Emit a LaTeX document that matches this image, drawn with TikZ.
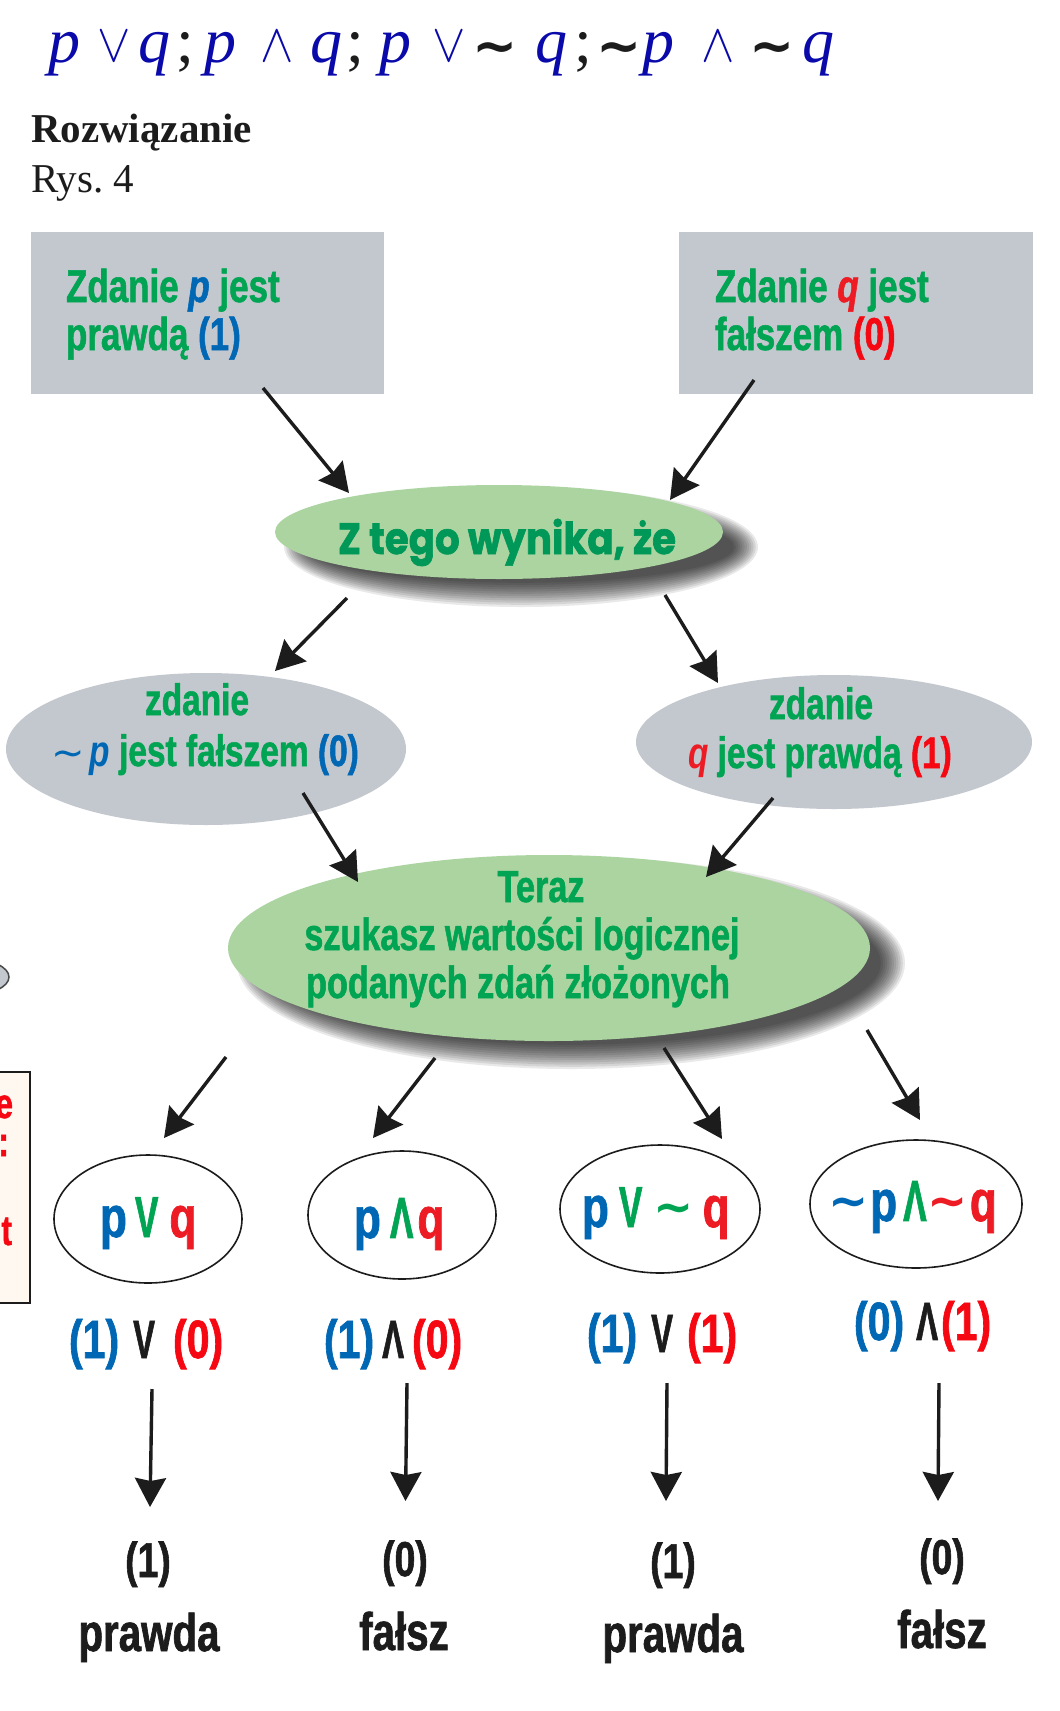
\documentclass[tikz,border=0pt]{standalone}
\usepackage{graphicx}
\usepackage{fontspec}
\setmainfont{Liberation Serif}
\newfontfamily\cnd{Liberation Sans}[FakeStretch=0.76,FakeBold=1.2]
\newfontfamily\cndl{Liberation Sans}[FakeStretch=0.76]
\newfontfamily\geo{Poppins}[FakeStretch=0.88,FakeBold=1.5]
\newfontfamily\dvs{DejaVu Sans}
\usetikzlibrary{arrows.meta,shapes.geometric}
\definecolor{grn}{RGB}{0,164,82}
\definecolor{zgrn}{RGB}{0,152,88}
\definecolor{blu}{RGB}{0,103,180}
\definecolor{rd}{RGB}{237,28,36}
\definecolor{rdv}{RGB}{246,8,18}
\definecolor{tblue}{RGB}{10,10,170}
\definecolor{boxg}{RGB}{195,199,206}
\definecolor{elg}{RGB}{172,212,160}
\definecolor{cream}{RGB}{255,248,240}
\definecolor{ink}{RGB}{28,28,28}
\newcommand\fz[1]{\fontsize{#1}{#1}\selectfont}
\newcommand\tild{\char"7E\relax}
\newcommand\nV{\scalebox{0.8}[1]{V}}
\newcommand\nL{\scalebox{0.8}[1]{\char"039B\relax}}
\newcommand\Gtl[1]{\raisebox{4pt}{\dvs\bfseries\fz{48}\color{#1}\char"7E\relax}}
\newcommand\softshadow[4]{\foreach \k in {0,...,11}{\fill[black,opacity=0.085] ({#1+22},{#2+15}) ellipse [x radius={#3+13-2.2*\k}, y radius={#4+13-2.2*\k}];}}
\begin{document}
\begin{tikzpicture}[x=1pt,y=-1pt,
  arr/.style={line width=3.4pt, draw=ink, -{Stealth[length=29pt,width=31pt,inset=3pt]}},
  lbl/.style={inner sep=0pt, outer sep=0pt, anchor=base},
  lblw/.style={inner sep=0pt, outer sep=0pt, anchor=base west},
  tl/.style={lbl, font=\fz{64}\itshape, text=tblue},
  top/.style={lbl, text=tblue},
  tsem/.style={lbl, font=\fz{64}, text=ink},
  ttl/.style={lbl, font=\dvs\bfseries\fz{54}, text=ink},
  grnell/.style={ellipse, fill=elg, inner sep=0pt},
  grayell/.style={ellipse, fill=boxg, inner sep=0pt},
  circ/.style={ellipse, draw=ink, line width=1.6pt, fill=white, inner sep=0pt},
  gbox/.style={rectangle, fill=boxg, inner sep=0pt, anchor=north west}
]
\useasboundingbox (0,0) rectangle (1060,1711);
\clip (0,0) rectangle (1060,1711);
\fill[white] (0,0) rectangle (1060,1711);

% title
\node[tl] (t1) at (64.5,62) {p};
\node[top] (t2) at (114.5,61) {\scalebox{5}[5.4]{$\vee$}};
\node[tl] (t3) at (154,62) {q};
\node[tsem] (t4) at (185,62) {;};
\node[tl] (t5) at (220.5,62) {p};
\node[top] (t6) at (277.5,61) {\scalebox{5}[5.4]{$\wedge$}};
\node[tl] (t7) at (326,62) {q};
\node[tsem] (t8) at (355.5,62) {;};
\node[tl] (t9) at (395.5,62) {p};
\node[top] (t10) at (449.5,61) {\scalebox{5}[5.4]{$\vee$}};
\node[ttl] (t11) at (495.5,64) {\char"7E\relax};
\node[tl] (t12) at (551,62) {q};
\node[tsem] (t13) at (583,62) {;};
\node[ttl] (t14) at (619,64) {\char"7E\relax};
\node[tl] (t15) at (658,62) {p};
\node[top] (t16) at (718,61) {\scalebox{5}[5.4]{$\wedge$}};
\node[ttl] (t17) at (772,64) {\char"7E\relax};
\node[tl] (t18) at (818.5,62) {q};

\node[lblw] (roz) at (31,142) {\bfseries\fz{41}\color{ink}Rozwiązanie};
\node[lblw] (rys) at (31,192) {\fz{41}\color{ink}Rys.\ 4};

% left fragments of a neighbouring figure
\fill[boxg, draw=ink!80, line width=1.5pt] (-30,977) ellipse (39 and 18);
\draw[fill=cream, draw=ink, line width=1.5pt] (-10,1072) rectangle (30,1303);
\node[lbl, anchor=base east] (fr1) at (13,1118) {\cnd\bfseries\fz{42}\color{rdv}e};
\node[lbl, anchor=base east] (fr2) at (9,1156) {\cnd\bfseries\fz{42}\color{rdv}:};
\node[lbl, anchor=base east] (fr3) at (12,1245) {\cnd\bfseries\fz{42}\color{rdv}t};

% boxes
\node[gbox, minimum width=353pt, minimum height=162pt] (boxp) at (31,232) {};
\node[gbox, minimum width=354pt, minimum height=162pt] (boxq) at (679,232) {};
\node[lblw] (bl1) at (66,302) {\cnd\bfseries\fz{46}\color{grn}Zdanie {\itshape\color{blu}p} jest};
\node[lblw] (bl2) at (66,350) {\cnd\bfseries\fz{46}\color{grn}prawdą {\color{blu}(1)}};
\node[lblw] (br1) at (715,302) {\cnd\bfseries\fz{46}\color{grn}Zdanie {\itshape\color{rd}q} jest};
\node[lblw] (br2) at (715,350) {\cnd\bfseries\fz{46}\color{grn}fałszem {\color{rdv}(0)}};

% gray ellipses
\node[grayell, minimum width=400pt, minimum height=152pt] (elp) at (206,749) {};
\node[grayell, minimum width=396pt, minimum height=134pt] (elq) at (834,742) {};
\node[lbl] (gl1) at (197,715) {\cnd\bfseries\fz{44}\color{grn}zdanie};
\node[lbl] (gl2) at (205,766) {\cnd\bfseries\fz{44}\color{grn}{\dvs\mdseries\fz{40}\color{blu}\tild}\kern5pt{\cndl\itshape\color{blu}p}\kern9pt jest fałszem {\color{blu}(0)}};
\node[lbl] (gr1) at (821,719) {\cnd\bfseries\fz{44}\color{grn}zdanie};
\node[lbl] (gr2) at (820,768) {\cnd\bfseries\fz{44}\color{grn}{\cndl\itshape\color{rd}q}\kern9pt jest prawdą {\color{rdv}(1)}};

% green ellipses with shadows
\softshadow{499}{532}{224}{47}
\node[grnell, minimum width=448pt, minimum height=94pt] (zt) at (499,532) {};
\node[lbl] (ztx) at (507,554) {\geo\bfseries\fz{44}\color{zgrn}Z tego wynika, że};
\softshadow{549}{948}{321}{93}
\node[grnell, minimum width=642pt, minimum height=186pt] (tr) at (549,948) {};
\node[lbl] (tr1) at (541,902) {\cnd\bfseries\fz{45}\color{grn}Teraz};
\node[lbl] (tr2) at (522,950) {\cnd\bfseries\fz{45}\color{grn}szukasz wartości logicznej};
\node[lbl] (tr3) at (518,998) {\cnd\bfseries\fz{45}\color{grn}podanych zdań złożonych};

% circles
\node[circ, minimum width=188pt, minimum height=128pt] (c1) at (148,1219) {};
\node[circ, minimum width=188pt, minimum height=128pt] (c2) at (402,1215) {};
\node[circ, minimum width=200pt, minimum height=128pt] (c3) at (660,1209) {};
\node[circ, minimum width=212pt, minimum height=128pt] (c4) at (916,1204) {};
\node[lblw] (c1t) at (100,1237) {\cnd\bfseries\fz{58}{\color{blu}p}\kern8pt{\color{grn}\nV}\kern11pt{\color{rd}q}};
\node[lblw] (c2t) at (354,1238) {\cnd\bfseries\fz{58}{\color{blu}p}\kern9pt{\color{grn}\nL}\kern4pt{\color{rd}q}};
\node[lblw] (c3t) at (582,1227) {\cnd\bfseries\fz{58}{\color{blu}p}\kern10pt{\color{grn}\nV}\kern11pt\Gtl{grn}\kern9pt{\color{rd}q}};
\node[lblw] (c4t) at (828,1221) {\cnd\bfseries\fz{58}\Gtl{blu}\kern2pt{\color{blu}p}\kern6pt{\color{grn}\nL}\kern1pt\Gtl{rd}\kern2pt{\color{rd}q}};

% values
\node[lblw] (v1) at (69,1358) {\cnd\bfseries\fz{54}{\color{blu}(1)}\kern14pt{\color{ink}\nV}\kern18pt{\color{rdv}(0)}};
\node[lblw] (v2) at (324,1358) {\cnd\bfseries\fz{54}{\color{blu}(1)}\kern8pt{\color{ink}\nL}\kern8pt{\color{rdv}(0)}};
\node[lblw] (v3) at (587,1352) {\cnd\bfseries\fz{54}{\color{blu}(1)}\kern14pt{\color{ink}\nV}\kern14pt{\color{rdv}(1)}};
\node[lblw] (v4) at (854,1340) {\cnd\bfseries\fz{54}{\color{blu}(0)}\kern12pt{\color{ink}\nL}\kern3pt{\color{rdv}(1)}};

% results
\node[lbl] (n1) at (148,1577) {\cnd\bfseries\fz{49}\color{ink}(1)};
\node[lbl] (n2) at (405,1576) {\cnd\bfseries\fz{49}\color{ink}(0)};
\node[lbl] (n3) at (673,1578) {\cnd\bfseries\fz{49}\color{ink}(1)};
\node[lbl] (n4) at (942,1574) {\cnd\bfseries\fz{49}\color{ink}(0)};
\node[lbl] (w1) at (149,1651) {\cnd\bfseries\fz{53}\color{ink}prawda};
\node[lbl] (w2) at (404,1650) {\cnd\bfseries\fz{53}\color{ink}fałsz};
\node[lbl] (w3) at (673,1652) {\cnd\bfseries\fz{53}\color{ink}prawda};
\node[lbl] (w4) at (942,1648) {\cnd\bfseries\fz{53}\color{ink}fałsz};

% arrow end points
\coordinate (a1s) at (263,388); \coordinate (a1e) at (349,493);
\coordinate (a2s) at (754,380); \coordinate (a2e) at (670,500);
\coordinate (a3s) at (347,598); \coordinate (a3e) at (275,671);
\coordinate (a4s) at (665,595); \coordinate (a4e) at (718,683);
\coordinate (a5s) at (303,793); \coordinate (a5e) at (358,882);
\coordinate (a6s) at (773,798); \coordinate (a6e) at (706,877);
\coordinate (a7s) at (226,1057); \coordinate (a7e) at (164,1138);
\coordinate (a8s) at (435,1058); \coordinate (a8e) at (373,1138);
\coordinate (a9s) at (664,1048); \coordinate (a9e) at (722,1139);
\coordinate (a10s) at (867,1030); \coordinate (a10e) at (920,1120);
\coordinate (b1s) at (152,1389); \coordinate (b1e) at (150,1507);
\coordinate (b2s) at (407,1383); \coordinate (b2e) at (405.5,1501);
\coordinate (b3s) at (667,1383); \coordinate (b3e) at (666,1501);
\coordinate (b4s) at (939,1383); \coordinate (b4e) at (938,1501);
\foreach \a in {a1,a2,a3,a4,a5,a6,a7,a8,a9,a10,b1,b2,b3,b4}
  \draw[arr] (\a s) -- (\a e);
\end{tikzpicture}
\end{document}
